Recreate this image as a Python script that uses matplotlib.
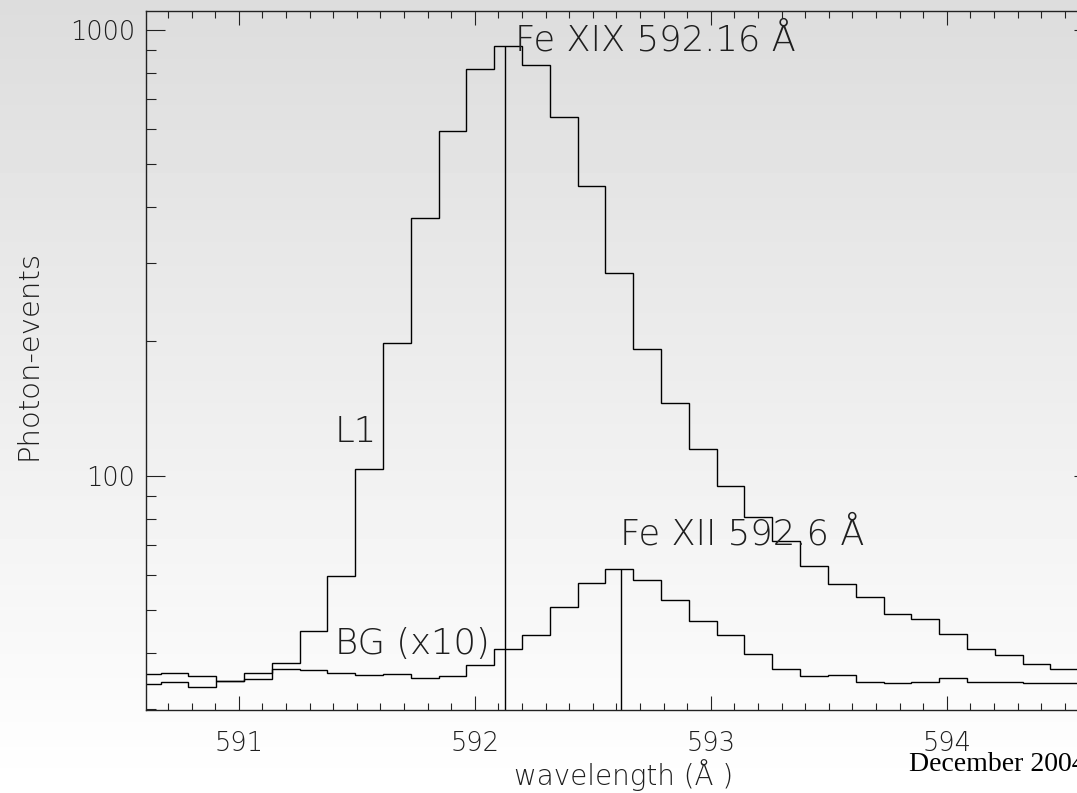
import matplotlib
matplotlib.use('Agg')
import matplotlib.pyplot as plt
from matplotlib import ticker
import numpy as np

# bin edges (Angstrom)
edges = [590.552, 590.670, 590.787, 590.905, 591.023, 591.141, 591.259, 591.376,
         591.494, 591.612, 591.730, 591.848, 591.965, 592.083, 592.201, 592.319,
         592.437, 592.554, 592.672, 592.790, 592.908, 593.026, 593.143, 593.261,
         593.379, 593.497, 593.615, 593.732, 593.850, 593.968, 594.086, 594.204,
         594.321, 594.439, 594.675]

# L1 photon events per bin
l1 = [35.9, 36.1, 35.6, 34.7, 36.0, 38.0, 44.8, 59.7, 103.5, 198.2, 379.2, 593.5,
      816.0, 917.4, 833.1, 635.8, 446.0, 285.4, 192.1, 145.6, 115.0, 94.7, 80.8,
      71.3, 62.8, 57.1, 53.4, 48.9, 47.7, 44.1, 40.8, 39.7, 37.8, 36.8]

# background (x10)
bg = [34.1, 34.4, 33.5, 34.7, 35.0, 36.8, 36.6, 36.0, 35.7, 35.9, 35.2, 35.5,
      37.7, 40.9, 44.0, 50.8, 57.5, 61.7, 58.4, 52.7, 47.2, 43.8, 39.9, 36.8,
      35.6, 35.7, 34.4, 34.3, 34.5, 35.2, 34.4, 34.4, 34.2, 34.2]

marker_wl = [592.13, 592.62]
marker_top = [917.4, 61.7]

txt_col = '#1e1e1e'
thin = 200
plt.rcParams['font.family'] = 'DejaVu Sans'

fig = plt.figure(figsize=(10.77, 7.93), dpi=100)

# grey-to-white background
bgax = fig.add_axes([0, 0, 1, 1], zorder=-1)
grad = np.linspace(0.865, 1.0, 256).reshape(-1, 1)
bgax.imshow(grad, cmap='gray', vmin=0, vmax=1, aspect='auto',
            extent=[0, 1, 0, 1], origin='upper')
bgax.axis('off')

ax = fig.add_axes([0.1353, 0.105, 0.8792, 0.8807])
ax.patch.set_alpha(0)

ax.stairs(l1, edges, baseline=None, color='k', lw=1.0)
ax.stairs(bg, edges, baseline=None, color='k', lw=1.0)
ax.vlines(marker_wl, 29.85, marker_top, color='k', lw=1.0)

ax.set_yscale('log')
ax.set_xlim(590.606, 594.618)
ax.set_ylim(29.85, 1100)

ax.xaxis.set_major_locator(ticker.MultipleLocator(1))
ax.xaxis.set_minor_locator(ticker.MultipleLocator(0.1))
ax.xaxis.set_major_formatter(ticker.FormatStrFormatter('%d'))
ax.yaxis.set_major_locator(ticker.LogLocator(base=10))
ax.yaxis.set_minor_locator(ticker.LogLocator(base=10, subs=np.arange(2, 10)))
ax.yaxis.set_major_formatter(ticker.FormatStrFormatter('%d'))
ax.yaxis.set_minor_formatter(ticker.NullFormatter())

ax.tick_params(axis='x', which='both', direction='in', top=True, bottom=True,
               colors='#222222')
ax.tick_params(axis='x', which='major', length=10, width=0.8, pad=15,
               labelsize=18.5, labelcolor=txt_col)
ax.tick_params(axis='x', which='minor', length=4.8, width=0.8)
ax.tick_params(axis='y', which='both', direction='in', left=True, right=True,
               colors='#222222')
ax.tick_params(axis='y', which='major', length=14, width=0.8, pad=7.5,
               labelsize=18.5, labelcolor=txt_col)
ax.tick_params(axis='y', which='minor', length=7.2, width=0.8)
for lab in ax.get_xticklabels() + ax.get_yticklabels():
    lab.set_fontweight(thin)
for s in ax.spines.values():
    s.set_color('#222222')
    s.set_linewidth(1.0)

ax.text(592.17, 900, 'Fe XIX 592.16 Å', fontsize=25.5, color=txt_col,
        va='baseline', fontweight=thin)
ax.text(592.616, 69.9, 'Fe XII 592.6 Å', fontsize=25.5, color=txt_col,
        va='baseline', fontweight=thin)
ax.text(591.408, 119.2, 'L1', fontsize=25.5, color=txt_col, va='baseline',
        fontweight=thin)
ax.text(591.408, 39.8, 'BG (x10)', fontsize=25.5, color=txt_col, va='baseline',
        fontweight=thin)

fig.text(29 / 1077, 1 - 355 / 793, 'Photon-events', rotation=90, ha='center',
         va='center', fontsize=21, color=txt_col, fontweight=thin)
fig.text(624 / 1077, 1 - 785 / 793, 'wavelength (Å )', ha='center',
         va='baseline', fontsize=20, color=txt_col, fontweight=thin)
fig.text(909 / 1077, 1 - 770.7 / 793, 'December 2004', family='Liberation Serif',
         fontsize=20, va='baseline', color='k')

fig.savefig('out.png', dpi=100)
